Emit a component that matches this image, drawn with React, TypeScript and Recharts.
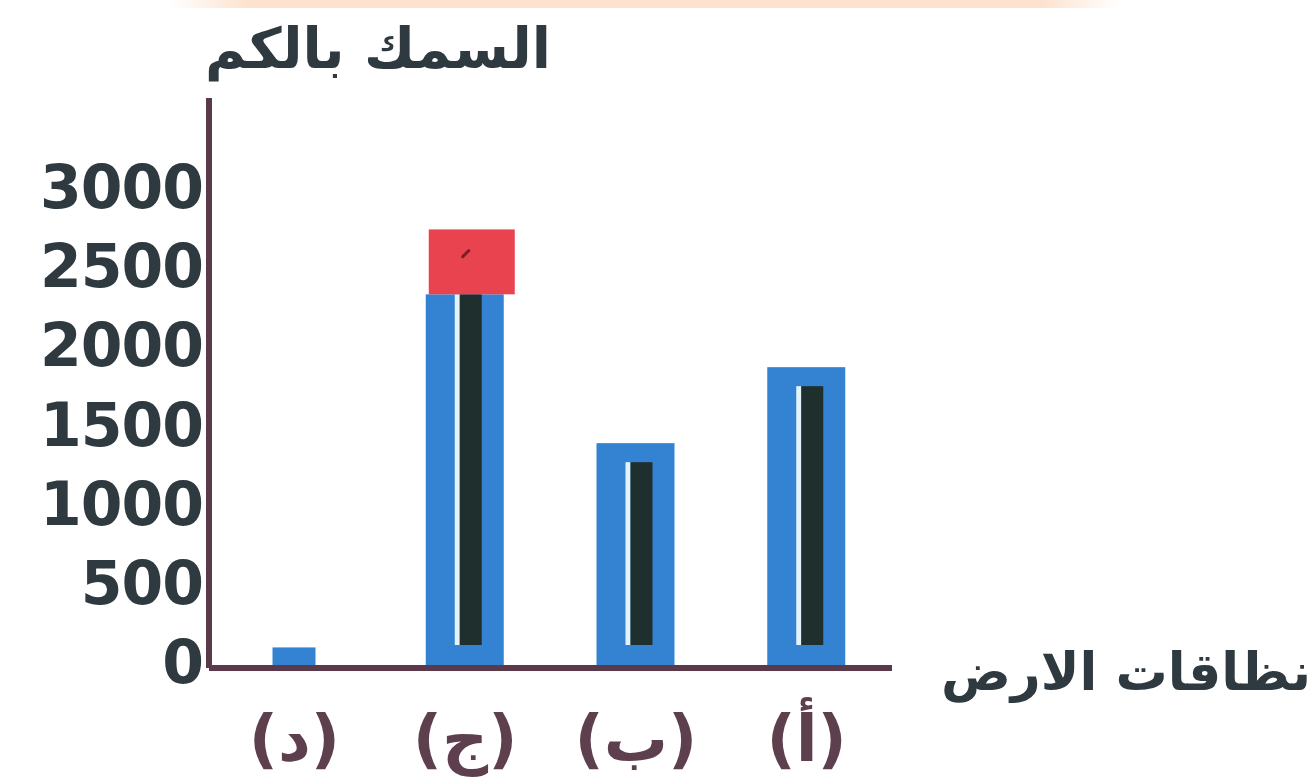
import { BarChart, Bar, XAxis, YAxis, Label } from 'recharts'

// zones of the earth, read right to left: (أ) is the rightmost bar
const zones = ['(أ)', '(ب)', '(ج)', '(د)']
const thickness = [1900, 1420, 2360, 130]
const highlight = [0, 0, 410, 0]
const yTicks = [0, 500, 1000, 1500, 2000, 2500, 3000]

const data = zones.map((zone, i) => ({
  zone,
  thickness: thickness[i],
  highlight: highlight[i],
}))

const AXIS = '#5a3a4a'
const BLUE = '#3483d2'
const INK = '#2e3a40'
const FONT = '"DejaVu Sans", sans-serif'

function LayerBar(props: any) {
  const { x, y, width, height, index, payload } = props
  if (!height || height <= 0) return <g />
  const w = index === 3 ? 43 : width
  const cx = x + width / 2
  const hasCap = payload && payload.highlight > 0
  const innerTop = y + (hasCap ? 0 : 19)
  const innerH = y + height - 23 - innerTop
  return (
    <g>
      <rect x={cx - w / 2} y={y} width={w} height={height} fill={BLUE} />
      {innerH > 20 && (
        <>
          <rect x={cx - 10} y={innerTop} width={5} height={innerH} fill="#e4f2fb" />
          <rect x={cx - 5} y={innerTop} width={22} height={innerH} fill="#1f2f2e" />
        </>
      )}
    </g>
  )
}

function CapBar(props: any) {
  const { x, y, width, height } = props
  if (!height || height <= 0) return <g />
  return (
    <g>
      <rect x={x + 3} y={y} width={width + 8} height={height} fill="#e8434f" />
      <path
        d={`M${x + width / 2 - 2} ${y + height * 0.42} l6 -6`}
        stroke="#7a1f2a"
        strokeWidth={3}
        strokeLinecap="round"
      />
    </g>
  )
}

function YTick(props: any) {
  const { x, y, payload } = props
  return (
    <text
      x={x + 2}
      y={y + 15}
      textAnchor="end"
      fontFamily={FONT}
      fontWeight="bold"
      fontSize={60}
      letterSpacing={-1}
      fill={INK}
    >
      {payload.value}
    </text>
  )
}

function XTick(props: any) {
  const { x, y, payload } = props
  return (
    <text
      x={x}
      y={y + 85}
      textAnchor="middle"
      fontFamily={FONT}
      fontWeight="bold"
      fontSize={64}
      fill="#5e3f4e"
    >
      {payload.value}
    </text>
  )
}

export default function App() {
  return (
    <div style={{ position: 'absolute', left: 0, top: 0, width: 1314, height: 782, background: '#fff' }}>
      <div
        style={{
          position: 'absolute',
          left: 170,
          top: 0,
          width: 950,
          height: 8,
          background: 'linear-gradient(to right, rgba(253,227,207,0), #fde3cf 8%, #fde3cf 92%, rgba(253,227,207,0))',
        }}
      />
      <BarChart
        width={1314}
        height={782}
        data={data}
        margin={{ top: 98, right: 422, left: 9, bottom: 44 }}
        barSize={78}
      >
        <XAxis
          dataKey="zone"
          reversed
          interval={0}
          height={70}
          axisLine={{ stroke: AXIS, strokeWidth: 6 }}
          tickLine={false}
          tick={<XTick />}
        >
          <Label
            content={(p: any) => {
              const vb = p.viewBox || {}
              return (
                <text
                  x={vb.x + vb.width + 419}
                  y={vb.y + 22}
                  textAnchor="end"
                  fontFamily={FONT}
                  fontWeight="bold"
                  fontSize={52}
                  fill={INK}
                >
                  نظاقات الارض
                </text>
              )
            }}
          />
        </XAxis>
        <YAxis
          width={200}
          domain={[0, 3600]}
          ticks={yTicks}
          interval={0}
          axisLine={{ stroke: AXIS, strokeWidth: 6 }}
          tickLine={false}
          tick={<YTick />}
        >
          <Label
            content={(p: any) => {
              const vb = p.viewBox || {}
              return (
                <text
                  x={vb.x + vb.width - 4}
                  y={vb.y - 30}
                  textAnchor="start"
                  fontFamily={FONT}
                  fontWeight="bold"
                  fontSize={56}
                  fill={INK}
                >
                  السمك بالكم
                </text>
              )
            }}
          />
        </YAxis>
        <Bar dataKey="thickness" stackId="a" shape={<LayerBar />} isAnimationActive={false} />
        <Bar dataKey="highlight" stackId="a" shape={<CapBar />} isAnimationActive={false} />
      </BarChart>
    </div>
  )
}
